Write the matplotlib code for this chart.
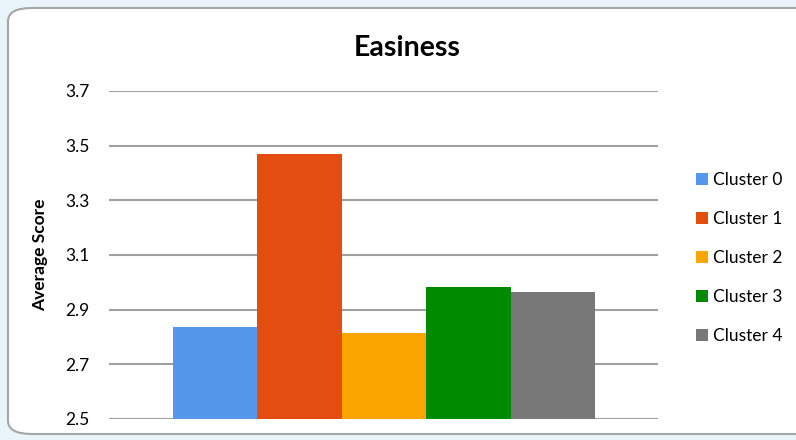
import matplotlib.pyplot as plt
from matplotlib.patches import FancyBboxPatch

# data
clusters = ["Cluster 0", "Cluster 1", "Cluster 2", "Cluster 3", "Cluster 4"]
scores = [2.835, 3.471, 2.815, 2.984, 2.963]
colors = ["#5597eb", "#e34e10", "#fba500", "#008a00", "#787878"]
yticks = [2.5, 2.7, 2.9, 3.1, 3.3, 3.5, 3.7]

plt.rcParams['font.family'] = ['Lato', 'DejaVu Sans']

fig = plt.figure(figsize=(7.96, 4.40), dpi=100)
fig.patch.set_facecolor("#e9f4fb")

# rounded white frame behind the chart
frame = FancyBboxPatch((8 / 796, 6 / 440), 820 / 796, 426 / 440,
                       boxstyle="round,pad=0,rounding_size=0.03",
                       transform=fig.transFigure, facecolor="white",
                       edgecolor="#a6a6a6", linewidth=1.5, zorder=-5)
fig.patches.append(frame)

ax = fig.add_axes([109 / 796, 21 / 440, 549 / 796, 328 / 440])
ax.set_facecolor("none")

x = range(len(clusters))
bars = ax.bar(x, scores, width=1.0, color=colors, label=clusters, zorder=3)

ax.set_ylim(2.5, 3.7)
ax.set_xlim(-1.257, 5.246)
ax.set_yticks(yticks)
ax.set_yticklabels([f"{v:.1f}" for v in yticks], fontsize=12.5)
ax.set_xticks([])
ax.tick_params(axis="y", length=0, pad=14)
ax.yaxis.grid(True, color="#a0a0a0", linewidth=1.5)
ax.set_axisbelow(True)
for s in ax.spines.values():
    s.set_visible(False)

ax.set_ylabel("Average Score", fontsize=12.5, fontweight="bold")
ax.yaxis.set_label_coords(-0.111, 0.5)

fig.text(407 / 796, 1 - 48 / 440, "Easiness", ha="center", va="center",
         fontsize=20.5, fontweight="bold")

ax.legend(handles=bars, labels=clusters, loc="center left",
          bbox_to_anchor=(680 / 796, 1 - 258 / 440),
          bbox_transform=fig.transFigure, frameon=False, fontsize=12.5,
          handlelength=0.7, handleheight=0.7, handletextpad=0.3,
          labelspacing=1.33)

fig.savefig("out.png", dpi=100, facecolor=fig.get_facecolor())
